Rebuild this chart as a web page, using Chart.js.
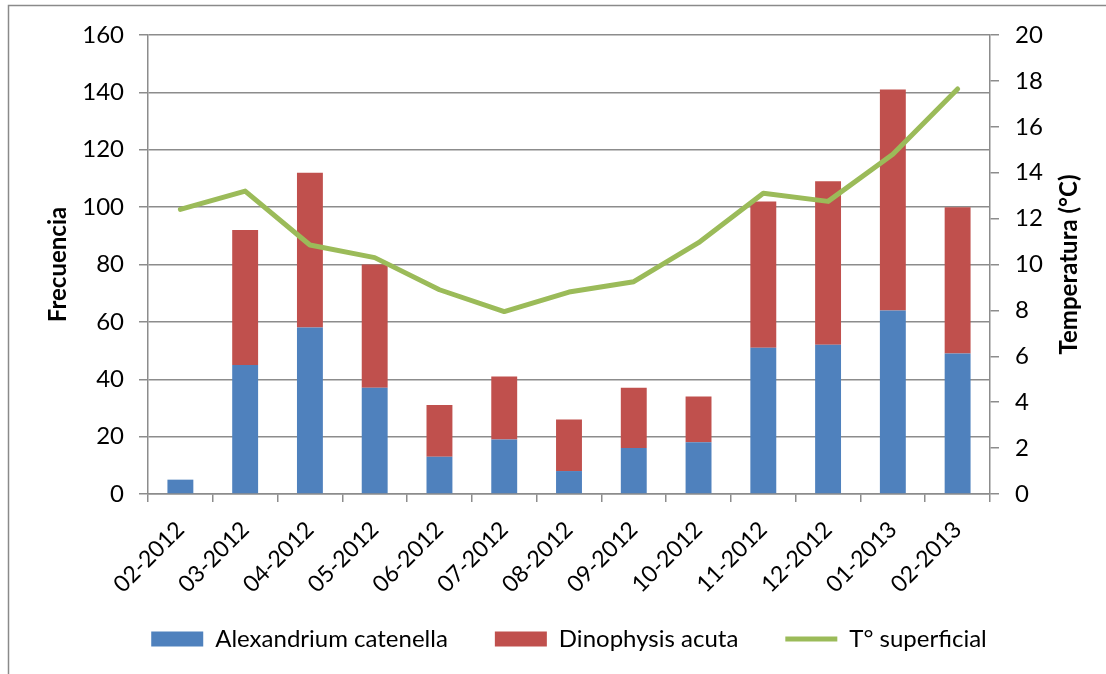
<!DOCTYPE html>
<html>
<head>
<meta charset="utf-8">
<script src="https://cdn.jsdelivr.net/npm/chart.js@4"></script>
<style>
  body { margin: 0; background: #fff; }
  #wrap { width: 1106px; height: 674px; }
</style>
</head>
<body>
<div id="wrap"><canvas id="chart" width="1106" height="674"></canvas></div>
<script>
// Data
const months = ['02-2012', '03-2012', '04-2012', '05-2012', '06-2012', '07-2012', '08-2012',
                '09-2012', '10-2012', '11-2012', '12-2012', '01-2013', '02-2013'];
const alexandrium = [5, 45, 58, 37, 13, 19, 8, 16, 18, 51, 52, 64, 49];
const dinophysis = [0, 47, 54, 43, 18, 22, 18, 21, 16, 51, 57, 77, 51];
const temperatura = [12.4, 13.2, 10.85, 10.3, 8.9, 7.95, 8.8, 9.25, 10.95, 13.1, 12.75, 14.8, 17.65];

const gridGray = '#8c8c8c';
const fontFamily = 'Lato, "Open Sans", sans-serif';
const fontSize = 24;

// Outer frame and right-hand axis title (reads bottom to top, like the left one)
const extras = {
    id: 'extras',
    afterLayout(chart) {
        // let the rotated month labels run past the x scale box (its label clip)
        chart.scales.x.bottom = chart.height;
    },
    afterDraw(chart) {
        const ctx = chart.ctx;
        const area = chart.chartArea;
        ctx.save();
        ctx.strokeStyle = '#8a8a8a';
        ctx.lineWidth = 1.5;
        ctx.beginPath();
        ctx.moveTo(8.5, 674);
        ctx.lineTo(8.5, 5.5);
        ctx.lineTo(1106, 5.5);
        ctx.stroke();

        ctx.translate(1069, (area.top + area.bottom) / 2);
        ctx.rotate(-Math.PI / 2);
        ctx.fillStyle = '#000';
        ctx.font = 'bold ' + fontSize + 'px ' + fontFamily;
        ctx.textAlign = 'center';
        ctx.textBaseline = 'middle';
        ctx.fillText('Temperatura (°C)', 0, 0);
        ctx.restore();
    }
};

new Chart(document.getElementById('chart'), {
    type: 'bar',
    data: {
        labels: months,
        datasets: [
            {
                label: 'Alexandrium catenella',
                data: alexandrium,
                backgroundColor: '#4f81bd',
                stack: 'algas',
                yAxisID: 'y',
                order: 1
            },
            {
                label: 'Dinophysis acuta',
                data: dinophysis,
                backgroundColor: '#c0504d',
                stack: 'algas',
                yAxisID: 'y',
                order: 1
            },
            {
                type: 'line',
                label: 'T° superficial',
                data: temperatura,
                borderColor: '#9bbb59',
                backgroundColor: '#9bbb59',
                borderWidth: 5,
                borderCapStyle: 'round',
                borderJoinStyle: 'round',
                pointRadius: 0,
                tension: 0,
                yAxisID: 'y1',
                order: 0
            }
        ]
    },
    options: {
        responsive: false,
        animation: false,
        barPercentage: 0.4,
        categoryPercentage: 1,
        layout: {
            padding: { left: 32, right: 0, top: 35, bottom: 13 }
        },
        scales: {
            x: {
                stacked: true,
                grid: {
                    offset: true,
                    drawOnChartArea: false,
                    color: gridGray,
                    lineWidth: 1.5,
                    tickLength: 8
                },
                border: { color: gridGray, width: 1.5 },
                ticks: {
                    color: '#000',
                    font: { family: fontFamily, size: 23 },
                    minRotation: 45,
                    maxRotation: 45,
                    padding: 14
                },
                afterFit: function(scale) {
                    scale.height = 86;
                }
            },
            y: {
                stacked: true,
                position: 'left',
                min: 0,
                max: 160,
                ticks: {
                    stepSize: 20,
                    color: '#000',
                    font: { family: fontFamily, size: fontSize },
                    padding: 15
                },
                grid: { color: gridGray, lineWidth: 1.5, tickLength: 9 },
                border: { color: gridGray, width: 1.5 },
                title: {
                    display: true,
                    text: 'Frecuencia',
                    color: '#000',
                    font: { family: fontFamily, size: fontSize, weight: 'bold' },
                    padding: { top: 12, bottom: 0 }
                },
                afterFit: function(scale) {
                    scale.width = 116;
                }
            },
            y1: {
                position: 'right',
                min: 0,
                max: 20,
                ticks: {
                    stepSize: 2,
                    color: '#000',
                    font: { family: fontFamily, size: fontSize },
                    padding: 16
                },
                grid: { drawOnChartArea: false, color: gridGray, lineWidth: 1.5, tickLength: 9 },
                border: { color: gridGray, width: 1.5 },
                afterFit: function(scale) {
                    scale.width = 116;
                }
            }
        },
        plugins: {
            legend: {
                position: 'bottom',
                labels: {
                    color: '#000',
                    font: { family: fontFamily, size: fontSize },
                    usePointStyle: true,
                    pointStyleWidth: 52,
                    boxHeight: 15,
                    padding: 47,
                    generateLabels: function(chart) {
                        const items = Chart.defaults.plugins.legend.labels.generateLabels(chart);
                        items.sort((a, b) => a.datasetIndex - b.datasetIndex);
                        items.forEach(item => {
                            item.pointStyle = item.datasetIndex === 2 ? 'line' : 'rect';
                        });
                        return items;
                    }
                }
            },
            tooltip: { enabled: false }
        }
    },
    plugins: [extras]
});
</script>
</body>
</html>
